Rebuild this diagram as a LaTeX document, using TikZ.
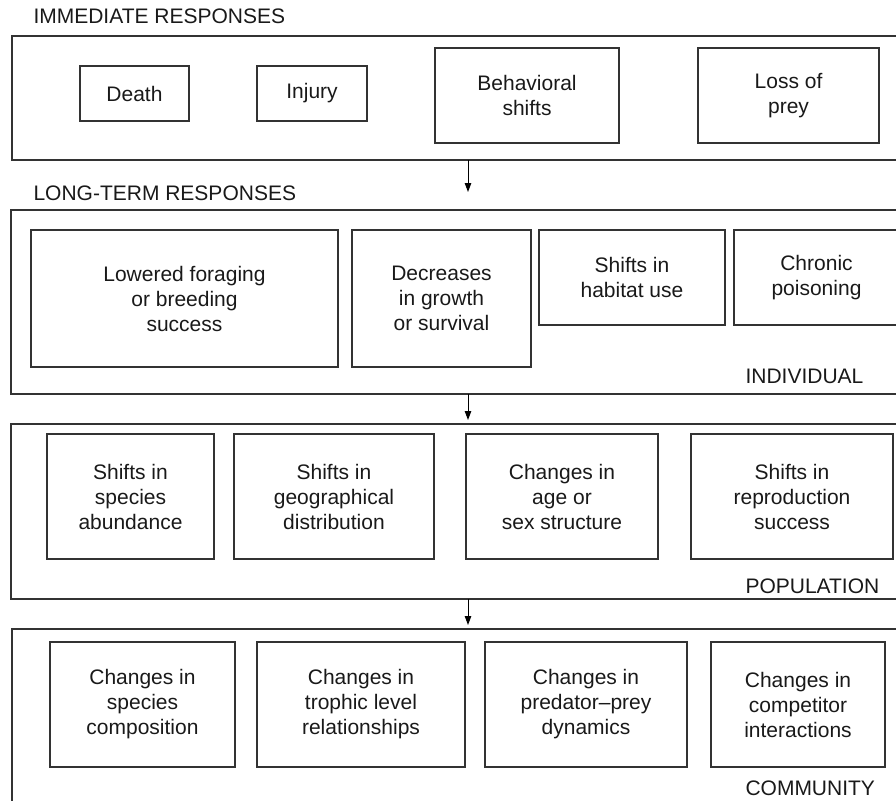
\documentclass[tikz,border=0pt]{standalone}
\usepackage{fontspec}
\setmainfont{Liberation Sans}
\usetikzlibrary{arrows.meta}

\begin{document}
\begin{tikzpicture}[
    x=1pt, y=-1pt,
    panel/.style={rectangle, draw=black!80, line width=1.3pt,
                  inner sep=0pt, outer sep=0pt},
    cell/.style={rectangle, draw=black!80, line width=1.1pt,
                 inner sep=0pt, outer sep=0pt, align=center,
                 font=\fontsize{21}{25}\selectfont, text=black!90},
    small/.style={cell, minimum height=95pt},
    tall/.style={cell, minimum height=125pt},
    head/.style={anchor=base west, inner sep=0pt,
                 font=\fontsize{21}{25}\selectfont, text=black!90},
    >={Triangle[length=9pt,width=6.5pt]},
    line width=1pt
]
\clip (0,0) rectangle (896,800);

%% --- Titluri ---
\node[head] (t_imm)  at (33, 24)   {IMMEDIATE RESPONSES};
\node[head] (t_long) at (33, 200)  {LONG-TERM RESPONSES};

%% --- Panouri ---
\node[panel, minimum width=898pt, minimum height=124pt] (immediate)  at (461, 98)    {};
\node[panel, minimum width=899pt, minimum height=184pt] (individual) at (460.5, 302) {};
\node[panel, minimum width=899pt, minimum height=175pt] (population) at (460.5, 511.5) {};
\node[panel, minimum width=898pt, minimum height=191pt] (community)  at (461, 724.5) {};

\node[head] (t_ind) at (745, 383) {INDIVIDUAL};
\node[head] (t_pop) at (745, 593) {POPULATION};
\node[head] (t_com) at (745, 795) {COMMUNITY};

%% --- Raspunsuri imediate ---
\node[cell, minimum width=109pt, minimum height=55pt] (death)  at (134.5, 93.5) {Death};
\node[cell, minimum width=110pt, minimum height=55pt] (injury) at (312, 93.5)   {Injury};
\node[small, minimum width=184pt] (behav) at (527, 95.5)   {Behavioral\\shifts};
\node[small, minimum width=181pt] (prey)  at (788.5, 95.5) {Loss of\\prey};

%% --- Nivel individual ---
\node[cell, minimum width=307pt, minimum height=137pt] (forage) at (184.5, 298.5) {Lowered foraging\\or breeding\\success};
\node[cell, minimum width=179pt, minimum height=137pt] (growth) at (441.5, 298.5) {Decreases\\in growth\\or survival};
\node[small, minimum width=186pt] (habitat) at (632, 277.5)   {Shifts in\\habitat use};
\node[small, minimum width=165pt] (poison)  at (816.5, 277.5) {Chronic\\poisoning};

%% --- Nivel populatie ---
\node[tall, minimum width=167pt] (abund)  at (130.5, 496.5) {Shifts in\\species\\abundance};
\node[tall, minimum width=200pt] (geog)   at (334, 496.5)   {Shifts in\\geographical\\distribution};
\node[tall, minimum width=192pt] (agesex) at (562, 496.5)   {Changes in\\age or\\sex structure};
\node[tall, minimum width=202pt] (repro)  at (792, 496.5)   {Shifts in\\reproduction\\success};

%% --- Nivel comunitate ---
\node[tall, minimum width=185pt] (compos)   at (142.5, 704.5) {Changes in\\species\\composition};
\node[tall, minimum width=208pt] (trophic)  at (361, 704.5)   {Changes in\\trophic level\\relationships};
\node[tall, minimum width=202pt] (predprey) at (586, 704.5)   {Changes in\\predator--prey\\dynamics};
\node[tall, minimum width=174pt] (compet)   at (798, 704.5)   {Changes in\\competitor\\interactions};

%% --- Sageti ---
\coordinate (tip1) at (468, 192);
\draw[->] (immediate.south -| tip1)  -- (tip1);
\draw[->, shorten >=4pt] (individual.south -| tip1) -- (population.north -| tip1);
\draw[->, shorten >=4pt] (population.south -| tip1) -- (community.north -| tip1);

\end{tikzpicture}
\end{document}
